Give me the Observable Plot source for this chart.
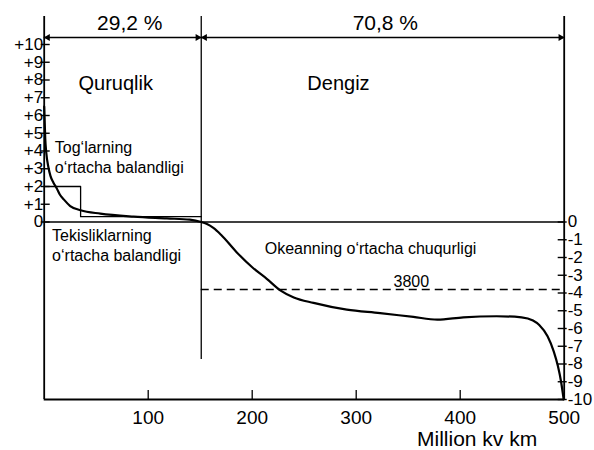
<!DOCTYPE html>
<html>
<head>
<meta charset="utf-8">
<script src="https://cdn.jsdelivr.net/npm/d3@7"></script>
<script src="https://cdn.jsdelivr.net/npm/@observablehq/plot@0.6"></script>
<style>
  html, body { margin: 0; padding: 0; background: #fff; }
  svg { display: block; }
</style>
</head>
<body>
<div id="chart"></div>
<script>
// ---- data ----
const totalArea = 500;      // million km²
const landArea = 151;       // million km² (29,2 %)
const landShare = "29,2 %";
const seaShare = "70,8 %";
const oceanMeanDepth = -3.8; // km
const oceanMeanLabel = "3800";

// hypsographic curve: land part
const landX = [0, 1, 2, 4, 6, 9, 12, 15, 19, 25, 35, 54, 86, 118, 140, 151];
const landY = [6.5, 4.7, 3.9, 3.1, 2.6, 2.2, 1.9, 1.55, 1.26, 0.9, 0.66, 0.47, 0.3, 0.2, 0.13, 0];
// ocean part
const oceanX = [156, 163, 170, 185, 200, 214, 227, 240, 259, 291, 323, 355, 378, 403, 435, 459, 470, 476, 484, 490, 494, 497, 499.5];
const oceanY = [-0.1, -0.35, -0.72, -1.7, -2.55, -3.2, -3.85, -4.25, -4.56, -4.94, -5.13, -5.35, -5.5, -5.37, -5.31, -5.37, -5.55, -5.8, -6.44, -7.3, -8.13, -9, -10];

// mean heights (step outline): mountains and plains
const stepX = [0, 35, 35, 151];
const stepY = [2, 2, 0.3, 0.3];

// ticks
const leftTicks = [10, 9, 8, 7, 6, 5, 4, 3, 2, 1, 0];
const leftLabels = ["+10", "+9", "+8", "+7", "+6", "+5", "+4", "+3", "+2", "+1", "0"];
const rightTicks = [0, -1, -2, -3, -4, -5, -6, -7, -8, -9, -10];
const rightLabels = ["0", "-1", "-2", "-3", "-4", "-5", "-6", "-7", "-8", "-9", "-10"];
const bottomTicks = [100, 200, 300, 400, 500];
const bottomLabels = ["100", "200", "300", "400", "500"];
const xTitle = "Million kv km";

// annotations
const notes = [
  {x: 33, y: 7.86, text: "Quruqlik", size: 20},
  {x: 253, y: 7.86, text: "Dengiz", size: 20},
  {x: 10.2, y: 3.7, text: "Tog\u2018larning\no\u2018rtacha balandligi", size: 16},
  {x: 7.6, y: -1.3, text: "Tekisliklarning\no\u2018rtacha balandligi", size: 16},
  {x: 212, y: -1.42, text: "Okeanning o\u2018rtacha chuqurligi", size: 16}
];

// ---- build ----
const curve = [
  ...landX.map((x, i) => ({x, y: landY[i]})),
  ...oceanX.map((x, i) => ({x, y: oceanY[i]}))
];
const step = stepX.map((x, i) => ({x, y: stepY[i]}));

const W = 594, H = 450;
const mL = 43.7, mR = 30.3, mT = 44, mB = 51;
const xMin = 0;
const yMin = -10, yMax = 10;
const font = "Liberation Sans, Arial, Helvetica, sans-serif";

const chart = Plot.plot({
  width: W,
  height: H,
  marginLeft: mL,
  marginRight: mR,
  marginTop: mT,
  marginBottom: mB,
  x: {domain: [xMin, totalArea], axis: null},
  y: {domain: [yMin, yMax], axis: null},
  style: {fontFamily: font, background: "#fff", color: "#000", overflow: "visible"},
  marks: [
    // vertical frame lines (extend above the plot to the arrow zone)
    Plot.ruleX([xMin, totalArea], {stroke: "#000", strokeWidth: 1.8, insetTop: -28}),
    Plot.ruleX([landArea], {stroke: "#000", strokeWidth: 1.3, insetTop: -28, insetBottom: 40}),
    // bottom axis and sea level
    Plot.ruleY([yMin], {x1: () => xMin, x2: () => totalArea, stroke: "#000", strokeWidth: 1.8}),
    Plot.ruleY([0], {x1: () => xMin, x2: () => totalArea, stroke: "#000", strokeWidth: 1.5}),
    // top dimension arrow line
    Plot.ruleY([yMax], {x1: () => xMin, x2: () => totalArea, dy: -7, stroke: "#000", strokeWidth: 1.3}),
    Plot.dot([landArea, totalArea], {x: d => d, y: () => yMax, dy: -7, dx: -3.6, symbol: "triangle", rotate: 90, r: 2.6, fill: "#000", stroke: "none"}),
    Plot.dot([xMin, landArea], {x: d => d, y: () => yMax, dy: -7, dx: 3.6, symbol: "triangle", rotate: -90, r: 2.6, fill: "#000", stroke: "none"}),
    Plot.text([landShare], {x: () => 82.3, y: () => yMax, dy: -21, text: d => d, fontSize: 21, fill: "#000"}),
    Plot.text([seaShare], {x: () => 328, y: () => yMax, dy: -21, text: d => d, fontSize: 21, fill: "#000"}),
    // left ticks & labels
    Plot.ruleY(leftTicks, {y: d => d, x1: () => xMin, x2: () => xMin, insetLeft: -3, insetRight: -6, stroke: "#000", strokeWidth: 1.4}),
    Plot.text(leftTicks, {x: () => xMin, y: d => d, text: (d, i) => leftLabels[i], textAnchor: "end", dx: -1, fontSize: 17, fill: "#000"}),
    // right ticks & labels
    Plot.ruleY(rightTicks, {y: d => d, x1: () => totalArea, x2: () => totalArea, insetLeft: -6, insetRight: -3, stroke: "#000", strokeWidth: 1.4}),
    Plot.text(rightTicks, {x: () => totalArea, y: d => d, text: (d, i) => rightLabels[i], textAnchor: "start", dx: 3.5, fontSize: 17, fill: "#000"}),
    // bottom ticks & labels
    Plot.ruleX(bottomTicks.filter(d => d < totalArea), {x: d => d, y1: () => yMin, y2: () => yMin, insetTop: -9, stroke: "#000", strokeWidth: 1.3}),
    Plot.text(bottomTicks, {x: d => d, y: () => yMin, text: (d, i) => bottomLabels[i], dy: 18, fontSize: 19, fill: "#000"}),
    Plot.text([xTitle], {x: () => totalArea, y: () => yMin, text: d => d, textAnchor: "end", dx: -27, dy: 40, fontSize: 21, fill: "#000"}),
    // mean height step outline
    Plot.line(step, {x: "x", y: "y", stroke: "#000", strokeWidth: 1.3}),
    // ocean mean depth
    Plot.ruleY([oceanMeanDepth], {x1: () => landArea, x2: () => totalArea, stroke: "#000", strokeWidth: 1.4, strokeDasharray: "8,5"}),
    Plot.text([oceanMeanLabel], {x: () => 353, y: () => oceanMeanDepth, text: d => d, dy: -8, fontSize: 16, fill: "#000"}),
    // hypsographic curve
    Plot.line(curve, {x: "x", y: "y", curve: "monotone-x", stroke: "#000", strokeWidth: 2.2}),
    // annotations
    Plot.text(notes, {x: "x", y: "y", text: "text", fontSize: "size", textAnchor: "start", lineHeight: 1.25, fill: "#000"})
  ]
});
document.getElementById("chart").appendChild(chart);
</script>
</body>
</html>
